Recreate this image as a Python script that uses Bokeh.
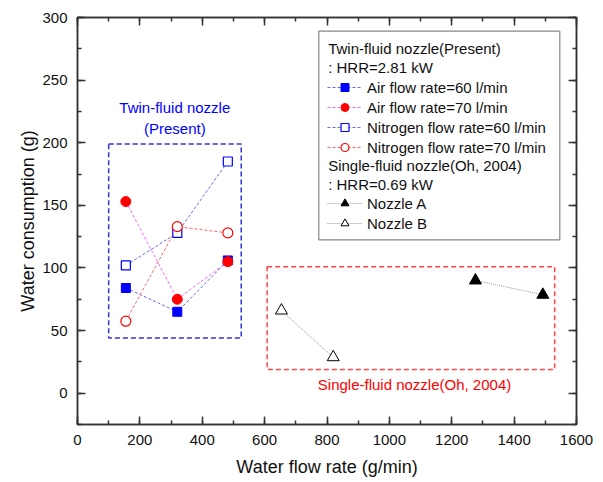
from bokeh.plotting import figure
from bokeh.models import (LinearAxis, SingleIntervalTicker, Range1d, Legend, LegendItem,
                          Label, BoxAnnotation, CustomJSTickFormatter)
from bokeh.embed import file_html
from bokeh.resources import INLINE

# ---- data ----
twin_flow = [155, 320, 482]
air60 = [84, 65, 106]
air70 = [153, 75, 105]
n2_60 = [102, 128, 185]
n2_70 = [57.5, 133, 128]
nozzleA_flow = [1276, 1492]
nozzleA = [90, 78.6]
nozzleB_flow = [654, 820]
nozzleB = [66, 28.7]

x_label = "Water flow rate (g/min)"
y_label = "Water consumption (g)"

FONT = "Liberation Sans"

p = figure(frame_width=499, frame_height=407,
           min_border_left=77, min_border_top=17, min_border_right=20, min_border_bottom=56,
           x_range=Range1d(0, 1600), y_range=Range1d(-25, 300),
           output_backend="svg", toolbar_location=None)
p.xgrid.visible = False
p.ygrid.visible = False
p.outline_line_color = "#333333"
p.outline_line_width = 1.5

xt = SingleIntervalTicker(interval=200, num_minor_ticks=2)
yt = SingleIntervalTicker(interval=50, num_minor_ticks=2)

def style_axis(ax, labels=True):
    ax.axis_line_color = "#333333"
    ax.axis_line_width = 1.5
    ax.major_tick_line_color = "#333333"
    ax.minor_tick_line_color = "#333333"
    ax.major_tick_line_width = 1.5
    ax.minor_tick_line_width = 1.5
    ax.major_tick_in = 8
    ax.major_tick_out = 0
    ax.minor_tick_in = 4
    ax.minor_tick_out = 0
    ax.major_label_text_font = FONT
    ax.major_label_text_color = "#111111"
    ax.axis_label_text_font = FONT
    ax.axis_label_text_font_style = "normal"
    ax.axis_label_text_color = "#111111"
    ax.major_label_text_font_size = "15px"
    ax.axis_label_text_font_size = "18px"
    if not labels:
        ax.formatter = CustomJSTickFormatter(code="return ''")
        ax.major_label_standoff = 0

p.xaxis.ticker = xt
p.yaxis.ticker = yt
p.xaxis.axis_label = x_label
p.yaxis.axis_label = y_label
style_axis(p.xaxis[0])
style_axis(p.yaxis[0])
p.xaxis.major_label_standoff = 10
p.xaxis.axis_label_standoff = 9
p.yaxis.major_label_standoff = 10
p.yaxis.axis_label_standoff = 1

top_ax = LinearAxis(ticker=SingleIntervalTicker(interval=200, num_minor_ticks=2))
style_axis(top_ax, labels=False)
p.add_layout(top_ax, "above")
right_ax = LinearAxis(ticker=SingleIntervalTicker(interval=50, num_minor_ticks=2))
style_axis(right_ax, labels=False)
p.add_layout(right_ax, "right")

# ---- group boxes ----
p.add_layout(BoxAnnotation(left=100, right=525, bottom=44, top=199,
                           fill_alpha=0, line_color="#3333dd", line_alpha=1,
                           line_width=1.5, line_dash="5 3"))
p.add_layout(BoxAnnotation(left=608, right=1530, bottom=19, top=101,
                           fill_alpha=0, line_color="#ff4444", line_alpha=1,
                           line_width=1.5, line_dash="5 3"))

# ---- series ----
DASH = "3 2"
l1 = p.line(twin_flow, air60, line_color="#6666ff", line_dash=DASH, line_width=1)
l2 = p.line(twin_flow, air70, line_color="#ff66ff", line_dash=DASH, line_width=1)
l3 = p.line(twin_flow, n2_60, line_color="#6666ff", line_dash=DASH, line_width=1)
l4 = p.line(twin_flow, n2_70, line_color="#ff6666", line_dash=DASH, line_width=1)
l5 = p.line(nozzleA_flow, nozzleA, line_color="#999999", line_dash="1 1", line_width=1)
l6 = p.line(nozzleB_flow, nozzleB, line_color="#999999", line_dash="1 1", line_width=1)

m3 = p.scatter(twin_flow, n2_60, marker="square", size=9, fill_color="white",
               line_color="#0000ff", line_width=1.2)
m4 = p.scatter(twin_flow, n2_70, marker="circle", size=10, fill_color="white",
               line_color="#ff0000", line_width=1.2)
m1 = p.scatter(twin_flow, air60, marker="square", size=9, fill_color="#0000ff",
               line_color="#0000ff")
m2 = p.scatter(twin_flow, air70, marker="circle", size=10, fill_color="#ff0000",
               line_color="#ff0000")
m5 = p.scatter(nozzleA_flow, nozzleA, marker="triangle", size=12, fill_color="black",
               line_color="black")
m6 = p.scatter(nozzleB_flow, nozzleB, marker="triangle", size=12, fill_color="white",
               line_color="black", line_width=1)

# ---- legend ----
p.add_layout(BoxAnnotation(left=773.7, right=1546.5, bottom=122.5, top=289.1,
                           fill_color="white", fill_alpha=1, line_color="#888888",
                           line_alpha=1, line_width=1.2, level="overlay"))

def mk_legend(items, loc):
    lg = Legend(items=items, location=loc, orientation="vertical",
                glyph_width=35, glyph_height=20, label_height=20, spacing=0,
                padding=0, margin=0, label_standoff=5,
                border_line_alpha=0, background_fill_alpha=0,
                label_text_font=FONT, label_text_font_size="15px",
                label_text_color="#111111")
    return lg

leg1 = mk_legend([
    LegendItem(label="Air flow rate=60 l/min", renderers=[l1, m1]),
    LegendItem(label="Air flow rate=70 l/min", renderers=[l2, m2]),
    LegendItem(label="Nitrogen flow rate=60 l/min", renderers=[l3, m3]),
    LegendItem(label="Nitrogen flow rate=70 l/min", renderers=[l4, m4]),
], (250, 267))
leg2 = mk_legend([
    LegendItem(label="Nozzle A", renderers=[l5, m5]),
    LegendItem(label="Nozzle B", renderers=[l6, m6]),
], (250, 191))
p.add_layout(leg1)
p.add_layout(leg2)

headers = [("Twin-fluid nozzle(Present)", 275.5), (": HRR=2.81 kW", 260.3),
           ("Single-fluid nozzle(Oh, 2004)", 181.8), (": HRR=0.69 kW", 166.4)]
for txt, yy in headers:
    p.add_layout(Label(x=803.8, y=yy, text=txt, text_font=FONT, text_font_size="15px",
                       text_color="#111111", text_baseline="middle", text_align="left",
                       level="overlay"))

p.add_layout(Label(x=312, y=227.9, text="Twin-fluid nozzle", text_font=FONT,
                   text_font_size="15px", text_color="#0000ff", text_align="center",
                   text_baseline="middle"))
p.add_layout(Label(x=312, y=211.6, text="(Present)", text_font=FONT,
                   text_font_size="15px", text_color="#0000ff", text_align="center",
                   text_baseline="middle"))
p.add_layout(Label(x=1080.6, y=6.7, text="Single-fluid nozzle(Oh, 2004)", text_font=FONT,
                   text_font_size="15px", text_color="#ff0000", text_align="center",
                   text_baseline="middle"))

open("out.html", "w").write(file_html(p, INLINE))
